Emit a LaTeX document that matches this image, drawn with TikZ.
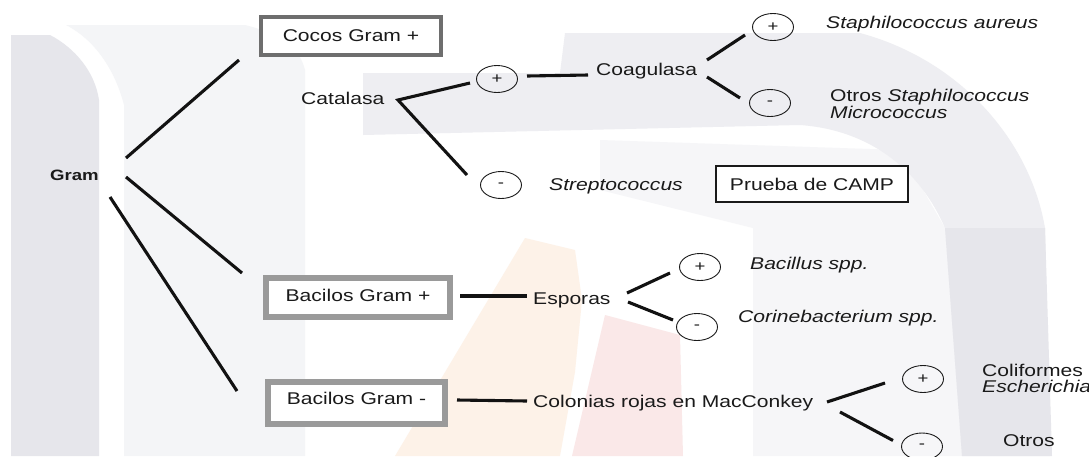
\documentclass[tikz,border=0pt]{standalone}
\usepackage{fontspec}
\setmainfont[FakeStretch=1.24]{Liberation Sans}
\usetikzlibrary{shapes.geometric,calc}
\definecolor{ink}{HTML}{1A1A1A}
\definecolor{boxdark}{HTML}{6E6E6E}
\definecolor{boxlight}{HTML}{9A9A9A}
\definecolor{wmA}{HTML}{E6E6EB}
\definecolor{wmB}{HTML}{F4F5F7}
\definecolor{wmC}{HTML}{EEEEF2}
\definecolor{wmD}{HTML}{F6F6F8}
\definecolor{peach}{HTML}{FDF2E8}
\definecolor{pinkwm}{HTML}{FAE8E8}
\begin{document}
\begin{tikzpicture}[x=1pt,y=-1pt,
  every node/.style={inner sep=0pt, text=ink, font=\fontsize{17}{20}\selectfont},
  conn/.style={draw=black!93, line width=3.1pt},
  sign/.style={ellipse, draw=ink, line width=0.9pt, minimum width=41pt, minimum height=27pt, inner sep=0pt, font=\fontsize{15}{15}\selectfont},
  lbl/.style={anchor=base west},
  gbox/.style={fill=white, minimum width=#1}
]
\useasboundingbox (0,0) rectangle (1089,456);
\clip (0,0) rectangle (1089,456);
\fill[white] (0,0) rectangle (1089,456);
% watermark
\fill[wmB] (66,25) -- (245,25) .. controls (285,35) and (300,50) .. (305,70) -- (305,456) -- (124,456) -- (124,105) .. controls (115,70) and (95,40) .. (66,25) -- cycle;
\fill[wmA] (11,456) -- (11,35) -- (50,35) .. controls (75,48) and (95,72) .. (99,100) -- (99,456) -- cycle;
\fill[wmD] (600,140) -- (900,150) -- (945,228) -- (962,456) -- (753,456) -- (753,228) -- (600,190) -- cycle;
\fill[wmC] (363,73) -- (560,73) -- (565,33) -- (860,33) .. controls (960,60) and (1030,140) .. (1045,228) -- (1050,456) -- (962,456) -- (945,228) .. controls (920,170) and (870,130) .. (800,125) -- (363,135) -- cycle;
\fill[wmA] (945,228) -- (1045,228) -- (1052,456) -- (962,456) -- cycle;
\fill[peach] (525,238) -- (575,250) -- (582,300) -- (575,372) -- (560,456) -- (395,456) -- cycle;
\fill[pinkwm] (605,315) -- (680,335) -- (683,456) -- (572,456) -- cycle;
% nodes
\node[lbl, font=\fontsize{15}{18}\selectfont\bfseries] (gram) at (50,180) {Gram};
\node[draw=boxdark, line width=4pt, gbox=180pt, minimum height=38pt] (cocos) at (351,36) {Cocos Gram +};
\node[draw=boxlight, line width=6pt, gbox=184pt, minimum height=39pt, text depth=5pt] (bacp) at (358,297.5) {Bacilos Gram +};
\node[draw=boxlight, line width=6pt, gbox=177pt, minimum height=42pt, text depth=10pt] (bacm) at (356.5,403) {Bacilos Gram -};
\node[lbl] (catalasa) at (301,104) {Catalasa};
\node[sign] (cp1) at (497,79) {+};
\node[sign] (cm1) at (501,185) {-};
\node[lbl] (coag) at (596,75) {Coagulasa};
\node[sign] (cp2) at (773,27) {+};
\node[sign] (cm2) at (770,103) {-};
\node[lbl] (staph) at (826,28) {\textit{Staphilococcus aureus}};
\node[lbl] (otros1) at (830,101) {Otros \textit{Staphilococcus}};
\node[lbl] (micro) at (830,118) {\textit{Micrococcus}};
\node[lbl] (strep) at (549,190) {\textit{Streptococcus}};
\node[draw=ink, line width=1.2pt, gbox=192pt, minimum height=36pt] (camp) at (812,184) {Prueba de CAMP};
\node[lbl] (esporas) at (533,304) {Esporas};
\node[sign] (cp3) at (700,267) {+};
\node[sign] (cm3) at (697,327) {-};
\node[lbl] (bacillus) at (750,269) {\textit{Bacillus spp.}};
\node[lbl] (corine) at (738,322) {\textit{Corinebacterium spp.}};
\node[lbl] (colonias) at (533,407) {Colonias rojas en MacConkey};
\node[sign] (cp4) at (923,379) {+};
\node[sign] (cm4) at (922,446.5) {-};
\node[lbl] (colif) at (982,376) {Coliformes};
\node[lbl] (esch) at (982,392) {\textit{Escherichia}};
\node[lbl] (otros2) at (1003,446) {Otros};
% connectors
\draw[conn] ($(gram.base west)+(76,-22)$) -- ($(cocos.center)+(-112,24)$);
\draw[conn] ($(gram.base west)+(76,-3)$) -- ($(bacp.center)+(-116,-24.5)$);
\draw[conn] ($(gram.base west)+(60,17)$) -- ($(bacm.center)+(-119.5,-12)$);
\draw[conn] ($(cp1.center)+(-27,4)$) -- ($(catalasa.base west)+(97,-4)$) -- ($(cm1.center)+(-34,-10)$);
\draw[conn] ($(cp1.center)+(30,-3)$) -- ($(coag.base west)+(-8,0)$);
\draw[conn] ($(coag.base west)+(111,-15)$) -- ($(cp2.center)+(-28,8)$);
\draw[conn] ($(coag.base west)+(111,2)$) -- ($(cm2.center)+(-30,-5)$);
\draw[conn] ($(bacp.center)+(102,-1.5)$) -- ($(esporas.base west)+(-6,-8)$);
\draw[conn] ($(esporas.base west)+(94,-11)$) -- ($(cp3.center)+(-30,6)$);
\draw[conn] ($(esporas.base west)+(95,-2)$) -- ($(cm3.center)+(-24,-7)$);
\draw[conn] ($(bacm.center)+(100.5,-3)$) -- ($(colonias.base west)+(-6,-6)$);
\draw[conn] ($(colonias.base west)+(294,-5)$) -- ($(cp4.center)+(-38,4)$);
\draw[conn] ($(colonias.base west)+(307,5)$) -- ($(cm4.center)+(-29,-6)$);
\end{tikzpicture}
\end{document}
